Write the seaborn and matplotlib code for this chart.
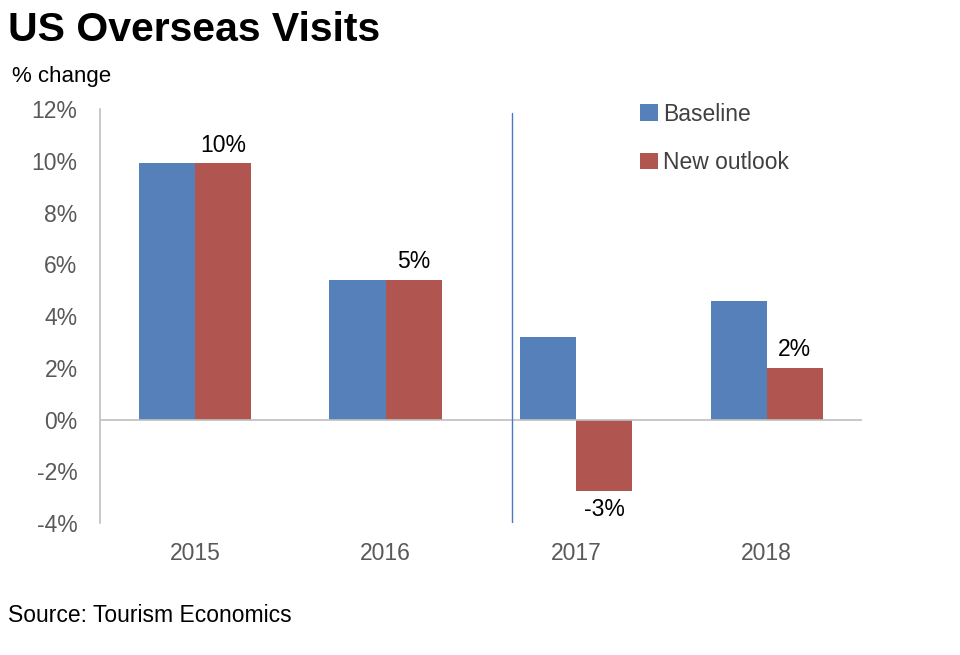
import matplotlib
matplotlib.use("Agg")
import matplotlib.pyplot as plt
import pandas as pd
import seaborn as sns

years = ["2015", "2016", "2017", "2018"]
baseline = [9.9, 5.4, 3.2, 4.6]
new_outlook = [9.9, 5.4, -2.75, 2.0]
new_labels = ["10%", "5%", "-3%", "2%"]
series = ["Baseline", "New outlook"]
yticks = [-4, -2, 0, 2, 4, 6, 8, 10, 12]

df = pd.DataFrame({
    "year": years * 2,
    "value": baseline + new_outlook,
    "series": [series[0]] * 4 + [series[1]] * 4,
})

sns.set_style("white")
plt.rcParams["font.family"] = ["Liberation Sans", "DejaVu Sans"]

fig = plt.figure(figsize=(9.6, 6.55), dpi=100)
ax = fig.add_axes([0.104, 0.2015, 0.794, 0.632])

palette = {"Baseline": "#5580BA", "New outlook": "#B0554F"}
sns.barplot(data=df, x="year", y="value", hue="series", palette=palette,
            width=0.59, gap=0, saturation=1, linewidth=0, ax=ax, legend=True)

ax.set_xlim(-0.5, 3.5)
ax.set_ylim(-4, 12)
ax.set_yticks(yticks)
ax.set_yticklabels([f"{t}%" for t in yticks])
ax.set_xlabel("")
ax.set_ylabel("")
ax.tick_params(axis="both", length=0, labelsize=16.5, colors="#595959")
ax.tick_params(axis="y", pad=16)
ax.tick_params(axis="x", pad=14)

for s in ["top", "right", "bottom"]:
    ax.spines[s].set_visible(False)
ax.spines["left"].set_color("#BFBFBF")
ax.spines["left"].set_linewidth(1.2)
ax.axhline(0, color="#BFBFBF", lw=1.2, xmax=1.0)

# divider between actuals and forecast
ax.axvline(1.663, ymin=0, ymax=(11.85 + 4) / 16, color="#4A78C2", lw=1)

# labels on the new outlook bars
red_bars = ax.containers[1]
for bar, val, lab in zip(red_bars, new_outlook, new_labels):
    cx = bar.get_x() + bar.get_width() / 2
    if val >= 0:
        ax.text(cx, val + 0.25, lab, ha="center", va="bottom", fontsize=16.5, color="black")
    else:
        ax.text(cx, val - 0.3, lab, ha="center", va="top", fontsize=16.5, color="black")

leg = ax.legend(loc="upper left", bbox_to_anchor=(0.682, 1.065), frameon=False,
                fontsize=16.5, handlelength=0.75, handleheight=0.75, handletextpad=0.25,
                labelspacing=1.1, labelcolor="#404040")

fig.text(0.008, 0.925, "US Overseas Visits", fontsize=29.5, fontweight="bold",
         color="black", ha="left", va="bottom")
fig.text(0.012, 0.867, "% change", fontsize=16, color="black", ha="left", va="bottom")
fig.text(0.008, 0.042, "Source: Tourism Economics", fontsize=16.5, color="black",
         ha="left", va="bottom")

fig.savefig("out.png", dpi=100)
